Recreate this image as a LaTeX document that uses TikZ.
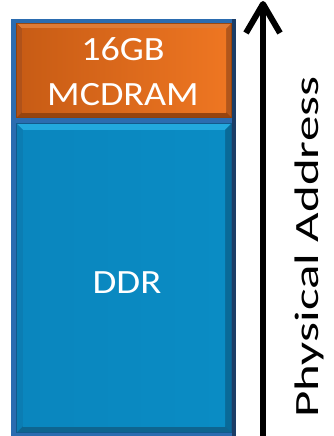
\documentclass[tikz,border=0pt]{standalone}
\usepackage{fontspec}
\setmainfont{Carlito}
\usetikzlibrary{arrows.meta}

% frame and bevel colours
\definecolor{frameblue}{HTML}{2B6CB0}
\definecolor{framedark}{HTML}{1C3D66}
\definecolor{orEdge}{HTML}{8E420D}
\definecolor{orTop}{HTML}{DE7B36}
\definecolor{orBot}{HTML}{96440F}
\definecolor{orLeft}{HTML}{B0521A}
\definecolor{orRight}{HTML}{B2561B}
\definecolor{orFaceL}{HTML}{C85C15}
\definecolor{orFaceR}{HTML}{EE7622}
\definecolor{ddEdge}{HTML}{125A8C}
\definecolor{ddTop}{HTML}{22A8DE}
\definecolor{ddBot}{HTML}{0E6590}
\definecolor{ddLeft}{HTML}{0B7DB3}
\definecolor{ddRight}{HTML}{096A98}
\definecolor{ddFaceL}{HTML}{0A86BE}
\definecolor{ddFaceR}{HTML}{0A8CC4}

% bevelled box: colour prefix, x1, y1, x2, y2, bevel width
\newcommand\bevelbox[6]{%
  \fill[#1Edge] (#2,#3) rectangle (#4,#5);
  \fill[#1Top]   (#2+1,#3+1) -- (#4-1,#3+1) -- (#4-1-#6,#3+1+#6) -- (#2+1+#6,#3+1+#6) -- cycle;
  \fill[#1Bot]   (#2+1,#5-1) -- (#4-1,#5-1) -- (#4-1-#6,#5-1-#6) -- (#2+1+#6,#5-1-#6) -- cycle;
  \fill[#1Left]  (#2+1,#3+1) -- (#2+1+#6,#3+1+#6) -- (#2+1+#6,#5-1-#6) -- (#2+1,#5-1) -- cycle;
  \fill[#1Right] (#4-1,#3+1) -- (#4-1-#6,#3+1+#6) -- (#4-1-#6,#5-1-#6) -- (#4-1,#5-1) -- cycle;
  \shade[left color=#1FaceL, right color=#1FaceR] (#2+1+#6,#3+1+#6) rectangle (#4-1-#6,#5-1-#6);
}

\tikzset{
  boxtext/.style={text=white, font=\fontsize{34}{34}\selectfont, inner sep=0pt},
  axislabel/.style={text=black, font=\fontsize{34}{34}\selectfont, inner sep=0pt, rotate=90, anchor=base},
  addrarrow/.style={line width=6pt, line cap=butt, line join=round, draw=black}
}

\begin{document}
\begin{tikzpicture}[x=1pt, y=-1pt]
  \path[use as bounding box] (0,0) rectangle (333,436);

  % outer frame
  \fill[frameblue] (11,19) rectangle (236,436);
  \fill[framedark] (232,19) rectangle (236,436);

  % memory regions
  \bevelbox{or}{16}{23}{232}{118}{5}
  \bevelbox{dd}{16}{123}{232}{433}{6}

  \node[boxtext] (mcsize) at (123,49) {\scalebox{1.12}[1]{16GB}};
  \node[boxtext] (mcname) at (123,95) {\scalebox{1.12}[1]{MCDRAM}};
  \node[boxtext] (ddr) at (127,283) {\scalebox{1.14}[1]{DDR}};

  % physical address axis
  \coordinate (abot) at (263,436);
  \coordinate (atop) at (263,4);
  \coordinate (lbarb) at (246,33);
  \coordinate (rbarb) at (280,33);
  \draw[addrarrow] (abot) -- (atop);
  \draw[addrarrow] (lbarb) -- (atop) -- (rbarb);

  \node[axislabel] (axis) at (318,247) {\scalebox{1.5}[1]{Physical Address}};
\end{tikzpicture}
\end{document}
